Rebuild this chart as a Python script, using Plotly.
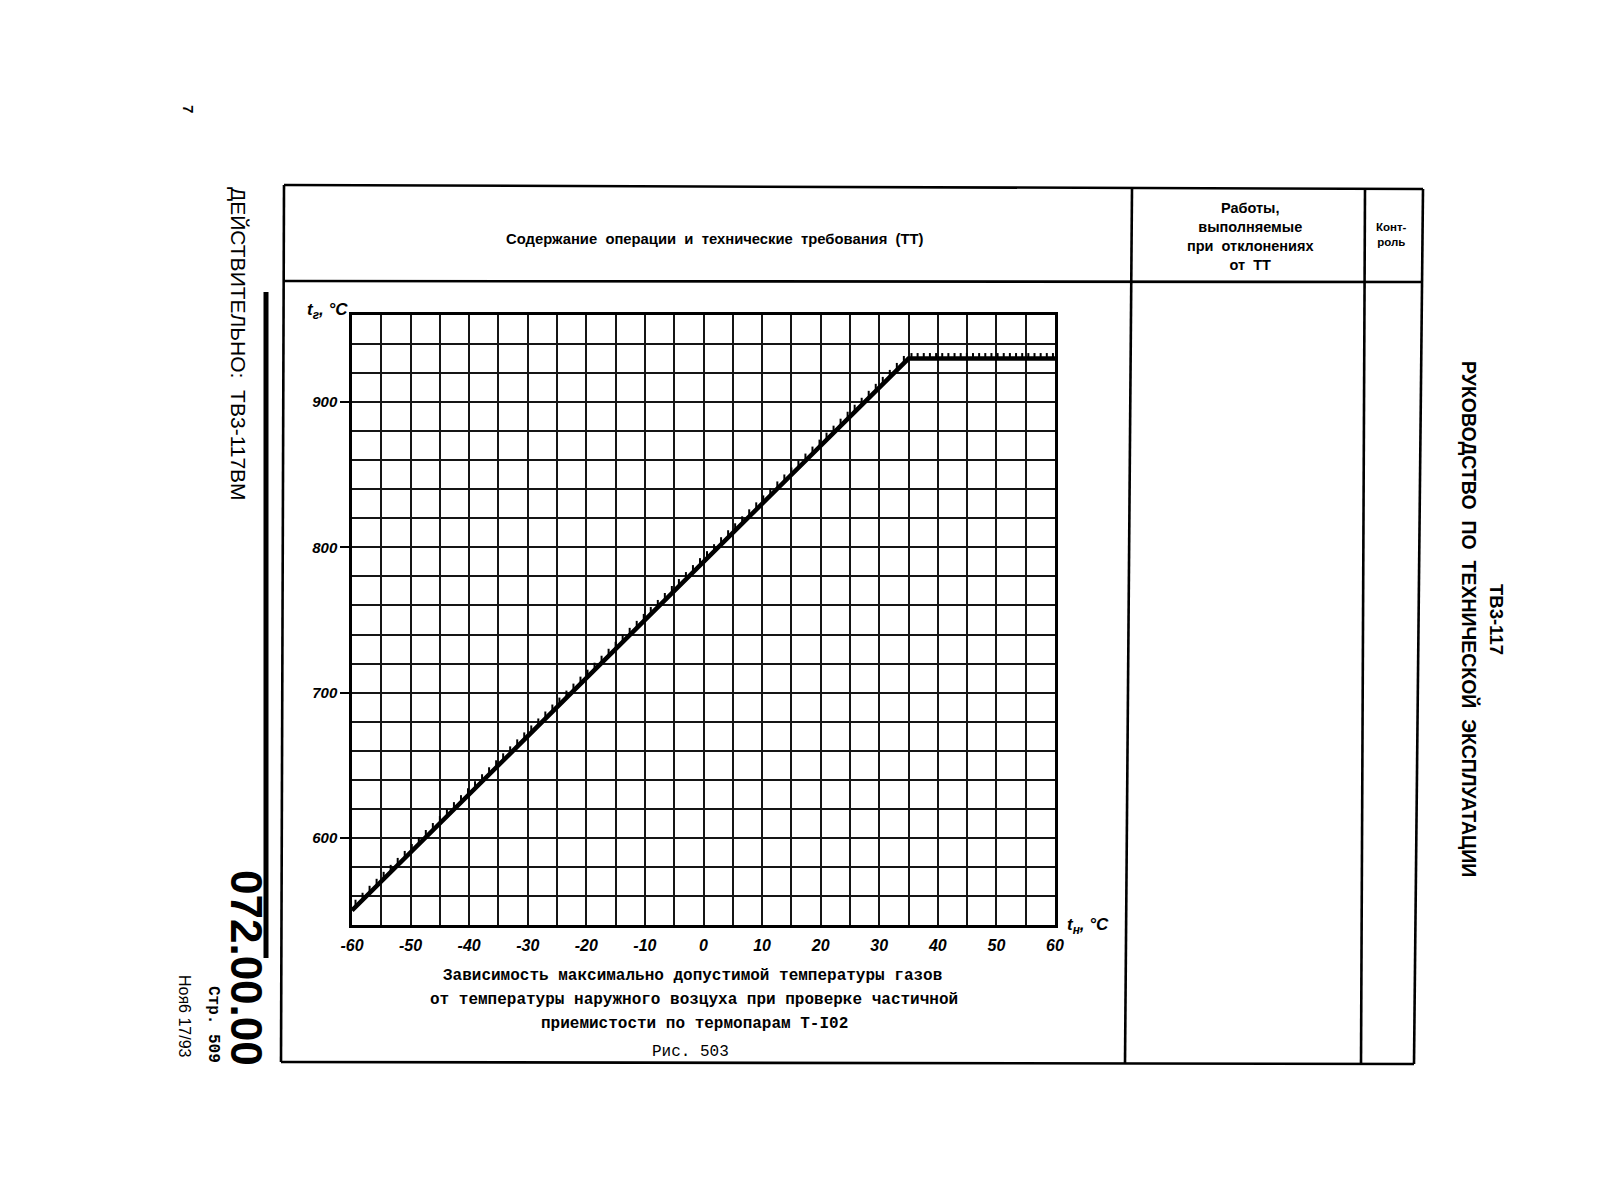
import numpy as np
import plotly.graph_objects as go

# ---- data ----
t_outside = [-60, 35, 60]          # t_н, °C
t_gas = [550, 930, 930]            # t_г, °C (max allowable gas temperature)
x_ticks = [-60, -50, -40, -30, -20, -10, 0, 10, 20, 30, 40, 50, 60]
x_ticklabels = ["-60", "-50", "-40", "-30", "-20", "-10", "0", "10", "20", "30", "40", "50", "60"]
y_ticks = [600, 700, 800, 900]
y_ticklabels = ["600", "700", "800", "900"]
x_range = [-60, 60]
y_range = [540, 960]

caption_lines = [
    "Зависимость максимально допустимой температуры газов",
    "от температуры наружного возцуха при проверке частичной",
    "приемистости по термопарам Т-I02",
]
fig_label = "Рис. 503"

# ---- page geometry (pixels) ----
W, H = 1620, 1190
L, R, T, B = 352, 1055, 315, 925
PW, PH = R - L, B - T


def px(x):
    return (x - L) / PW


def py(y):
    return (B - y) / PH


fig = go.Figure()

# hatch marks along the limit line (derived from the line itself)
hx_slope = np.arange(t_outside[0] + 0.6, t_outside[1], 1.2)
hx_flat = np.arange(t_outside[1] + 0.5, t_outside[2], 1.05)
hx = np.concatenate([hx_slope, hx_flat])
hy = np.interp(hx, t_outside, t_gas)
hlen = np.where(hx < t_outside[1], 5.0, 3.8)
hatch_x, hatch_y = [], []
for xv, yv, ln in zip(hx, hy, hlen):
    hatch_x += [xv, xv, None]
    hatch_y += [yv, yv + ln, None]

fig.add_trace(go.Scatter(x=hatch_x, y=hatch_y, mode="lines",
                         line=dict(color="#000", width=2),
                         hoverinfo="skip", showlegend=False))
fig.add_trace(go.Scatter(x=t_outside, y=t_gas, mode="lines",
                         line=dict(color="#000", width=4.5),
                         showlegend=False))

tick_font = dict(family="Liberation Sans", size=16, color="#000", style="italic", weight="bold")

fig.update_xaxes(range=x_range, tickvals=x_ticks, ticktext=x_ticklabels,
                 showgrid=True, gridcolor="#151515", gridwidth=1.8,
                 minor=dict(tick0=-60, dtick=5, showgrid=True, gridcolor="#151515", gridwidth=1.8),
                 zeroline=False, showline=True, linecolor="#000", linewidth=2.5, mirror=True,
                 ticks="", ticklabelstandoff=4, tickfont=tick_font, fixedrange=True)
fig.update_yaxes(range=y_range, tickvals=y_ticks, ticktext=y_ticklabels,
                 showgrid=True, gridcolor="#151515", gridwidth=1.8,
                 minor=dict(tick0=540, dtick=20, showgrid=True, gridcolor="#151515", gridwidth=1.8),
                 zeroline=False, showline=True, linecolor="#000", linewidth=2.5, mirror=True,
                 ticks="outside", ticklen=9, tickwidth=1.5, tickcolor="#000",
                 tickfont=dict(family="Liberation Sans", size=15, color="#000", style="italic", weight="bold"),
                 fixedrange=True)

# ---- page table (form frame) ----
shapes = []


def seg(x0, y0, x1, y1, w=2.6):
    shapes.append(dict(type="line", xref="paper", yref="paper",
                       x0=px(x0), y0=py(y0), x1=px(x1), y1=py(y1),
                       line=dict(color="#000", width=w)))


seg(284, 185, 1423, 189)      # top border
seg(284, 281, 1423, 282)      # header line
seg(281, 1062, 1414, 1064)    # bottom border
seg(284, 185, 281, 1062)      # left border
seg(1132, 189, 1125, 1064)    # column 1
seg(1365, 189, 1361, 1064)    # column 2
seg(1423, 189, 1414, 1064)    # right border
seg(266, 292, 266, 958, w=5)  # thick margin rule

annotations = []


def text(x, y, s, size, family="Liberation Sans", weight="normal", angle=0,
         xanchor="center", yanchor="middle", style="normal"):
    annotations.append(dict(x=px(x), y=py(y), xref="paper", yref="paper", text=s,
                            showarrow=False, textangle=angle, xanchor=xanchor, yanchor=yanchor,
                            font=dict(family=family, size=size, color="#000", weight=weight, style=style)))


# header
text(715, 239, "Содержание  операции  и  технические  требования  (ТТ)", 14.8, weight="bold")
text(1250, 236, "Работы,<br>выполняемые<br>при  отклонениях<br>от  ТТ", 14.5, weight="bold")
text(1391, 234, "Конт-<br>роль", 11.5, weight="bold")

# axis labels
text(350, 311, "t<sub>г</sub>, °C", 17, xanchor="right", style="italic", weight="bold")
text(1065, 926, "t<sub>н</sub>, °C", 17, xanchor="left", style="italic", weight="bold")

# caption
cap_font = "Liberation Mono"
text(692, 976, caption_lines[0], 16, family=cap_font, weight="bold")
text(694, 1000, caption_lines[1], 16, family=cap_font, weight="bold")
text(694, 1024, caption_lines[2], 16, family=cap_font, weight="bold")
text(690, 1052, fig_label, 16, family=cap_font)

# margin texts (rotated)
text(189, 109, "7", 15, angle=90, weight="bold")
text(239, 344, "ДЕЙСТВИТЕЛЬНО:  ТВ3-117ВМ", 21, angle=90)
text(247, 968, "072.00.00", 44, weight="bold", angle=90)
text(213, 1024, "Стр. 509", 16, family=cap_font, weight="bold", angle=90)
text(185, 1016, "Ноя6 17/93", 16, angle=90)
text(1470, 619, "РУКОВОДСТВО  ПО  ТЕХНИЧЕСКОЙ  ЭКСПЛУАТАЦИИ", 19.5, weight="bold", angle=90)
text(1497, 619, "ТВ3-117", 18.5, weight="bold", angle=90)

fig.update_layout(width=W, height=H,
                  margin=dict(l=L, r=W - R, t=T, b=H - B, pad=0),
                  paper_bgcolor="white", plot_bgcolor="white",
                  shapes=shapes, annotations=annotations,
                  showlegend=False)

fig.write_html("out.html", config={"displayModeBar": False},
               post_script="document.body.style.margin='0';")
